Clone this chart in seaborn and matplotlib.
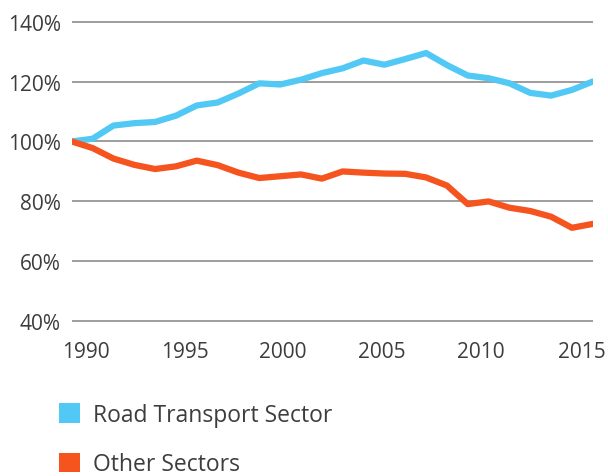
import numpy as np
import pandas as pd
import seaborn as sns
import matplotlib.pyplot as plt
import matplotlib.transforms as mtransforms
from matplotlib.patches import Patch

# index, 1990 = 100%
years = list(range(1990, 2016))
road = [100, 100.9, 105.3, 106.1, 106.5, 108.6, 112.0, 113.0, 116.0, 119.4,
        119.0, 120.6, 122.8, 124.4, 127.0, 125.6, 127.5, 129.5, 125.5, 122.0,
        121.1, 119.4, 116.2, 115.3, 117.2, 120.0]
other = [100, 97.8, 94.3, 92.2, 90.8, 91.7, 93.6, 92.1, 89.6, 87.8,
         88.4, 89.0, 87.6, 90.0, 89.6, 89.3, 89.2, 88.0, 85.3, 79.1,
         80.0, 77.9, 76.8, 74.9, 71.2, 72.5]
sectors = ['Road Transport Sector', 'Other Sectors']
y_ticks = [40, 60, 80, 100, 120, 140]
x_ticks = [1990, 1995, 2000, 2005, 2010, 2015]

blue = '#52C9F5'
orange = '#F5541F'
text_col = '#3d3d3d'

df = pd.DataFrame({
    'year': years * 2,
    'value': road + other,
    'sector': [sectors[0]] * len(years) + [sectors[1]] * len(years),
})

sns.set_style('white')
plt.rcParams['font.family'] = ['Open Sans', 'DejaVu Sans']

fig = plt.figure(figsize=(6.08, 4.77), dpi=100)
ax = fig.add_axes([0.118, 0.318, 0.857, 0.641])

sns.lineplot(data=df, x='year', y='value', hue='sector', hue_order=sectors,
             palette=[blue, orange], linewidth=4.5, legend=False, ax=ax)
for line in ax.get_lines():
    line.set_solid_capstyle('round')
    line.set_solid_joinstyle('round')

ax.set_xlim(1990, 2015)
ax.set_ylim(39, 141)
ax.set_yticks(y_ticks)
ax.set_yticklabels([f'{t}%' for t in y_ticks])
ax.set_xticks(x_ticks)
ax.set_xticklabels([str(t) for t in x_ticks])
ax.set_xlabel('')
ax.set_ylabel('')

ax.yaxis.grid(True, color='#8c8c8c', linewidth=1.2)
ax.xaxis.grid(False)
ax.set_axisbelow(True)
sns.despine(ax=ax, left=True, bottom=True)
ax.tick_params(axis='both', length=0, labelsize=15, labelcolor=text_col)
ax.tick_params(axis='y', pad=8)
ax.tick_params(axis='x', pad=12)

# labels in the original are spread a little tighter than the year ticks
shifts = [14, 9, 3, -3, -8, -11]
for lab, dx in zip(ax.get_xticklabels(), shifts):
    lab.set_transform(lab.get_transform() + mtransforms.ScaledTranslation(dx / 100, 0, fig.dpi_scale_trans))

handles = [Patch(facecolor=blue, edgecolor='none'), Patch(facecolor=orange, edgecolor='none')]
fig.legend(handles, sectors, loc='upper left', bbox_to_anchor=(59 / 608, 1 - 404 / 477),
           frameon=False, fontsize=16.5, labelcolor=text_col,
           handlelength=0.92, handleheight=0.92, handletextpad=0.55,
           labelspacing=1.1, borderpad=0, borderaxespad=0)

fig.savefig('out.png', dpi=100)
